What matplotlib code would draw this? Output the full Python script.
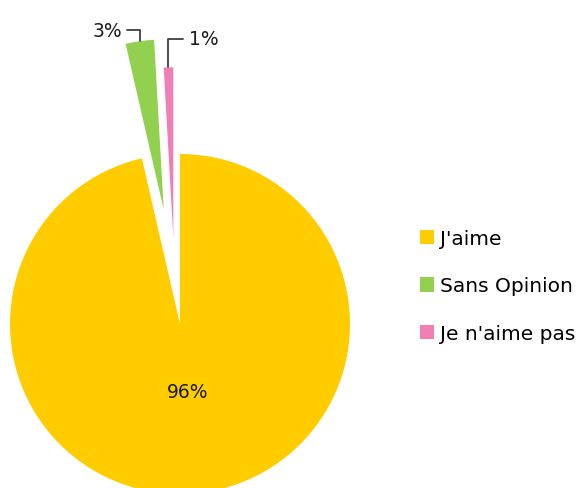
import numpy as np
import matplotlib
matplotlib.use('Agg')
import matplotlib.pyplot as plt

# data
labels = ["J'aime", "Sans Opinion", "Je n'aime pas"]
values = [96.4, 2.7, 0.9]
colors = ['#FFCC00', '#92D050', '#F07FB5']
explode = [0.0, 0.68, 0.51]

fig = plt.figure(figsize=(5.8, 4.89), dpi=100)
ax = fig.add_axes([0, 0, 1, 1])

wedges, texts, autotexts = ax.pie(values, colors=colors, explode=explode,
                                  startangle=90, counterclock=False,
                                  autopct='%.0f%%', pctdistance=0.4,
                                  textprops={'fontsize': 13.5, 'color': '#1a1a1a'})

# nudge the thin slice a little to the left, like the original
cx, cy = wedges[2].center
wedges[2].set_center((cx - 0.025, cy))

# 170 px per data unit, pie centre at pixel (180, 325)
ax.set_aspect('auto')
ax.set_xlim(-180 / 170, 400 / 170)
ax.set_ylim(-164 / 170, 325 / 170)
ax.axis('off')

# small slices get their labels outside with leader lines
offsets = {1: (-0.105, 0.065, 'right'), 2: (0.12, 0.17, 'left')}
for i, (dx, dy, ha) in offsets.items():
    w = wedges[i]
    mid = np.deg2rad((w.theta1 + w.theta2) / 2)
    cx, cy = w.center
    tx, ty = cx + w.r * np.cos(mid), cy + w.r * np.sin(mid)
    autotexts[i].set_visible(False)
    ax.annotate(autotexts[i].get_text(), xy=(tx, ty), xytext=(tx + dx, ty + dy),
                ha=ha, va='center', fontsize=13.5, color='#1a1a1a',
                arrowprops=dict(arrowstyle='-', color='#404040', lw=1.3,
                                shrinkA=2, shrinkB=0,
                                connectionstyle='angle,angleA=0,angleB=90,rad=0'))

fig.legend(wedges, labels, loc='center left', bbox_to_anchor=(420 / 580, 1 - 287 / 489),
           frameon=False, fontsize=14.5, handlelength=0.7, handleheight=0.7,
           handletextpad=0.3, labelspacing=1.42, borderpad=0, borderaxespad=0)

fig.savefig('out.png', dpi=100)
